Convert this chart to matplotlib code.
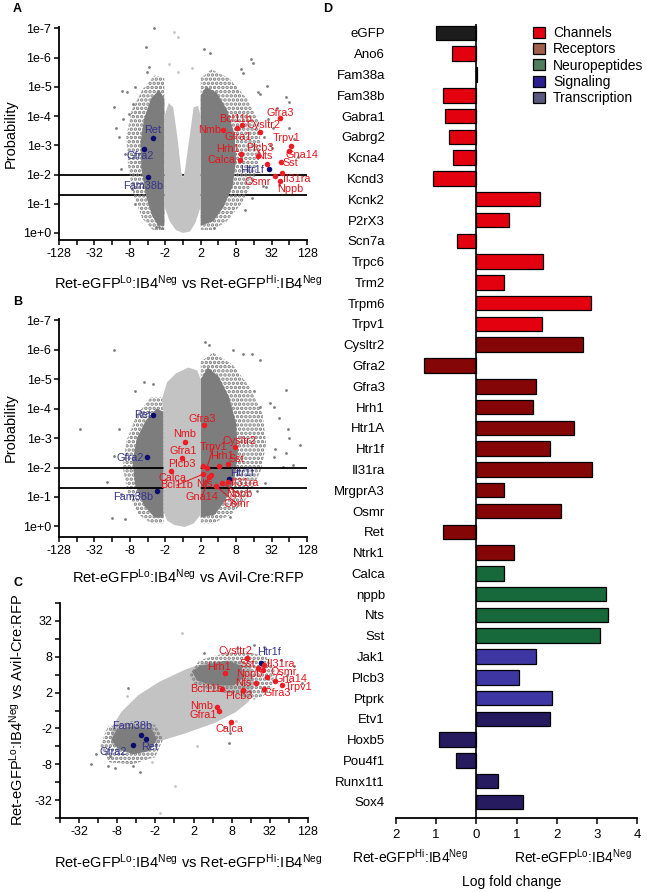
import numpy as np
import matplotlib
matplotlib.use('Agg')
import matplotlib.pyplot as plt
from matplotlib.patches import Patch

plt.rcParams['font.family'] = ['Liberation Sans', 'DejaVu Sans']
plt.rcParams['mathtext.fontset'] = 'custom'
plt.rcParams['mathtext.rm'] = 'Liberation Sans'
plt.rcParams['mathtext.it'] = 'Liberation Sans:italic'
plt.rcParams['mathtext.bf'] = 'Liberation Sans:bold'
plt.rcParams['hatch.linewidth'] = 1.7

W, H = 647, 892

# ---------------- Panel D data ----------------
genes_D = ['eGFP', 'Ano6', 'Fam38a', 'Fam38b', 'Gabra1', 'Gabrg2', 'Kcna4', 'Kcnd3',
           'Kcnk2', 'P2rX3', 'Scn7a', 'Trpc6', 'Trm2', 'Trpm6', 'Trpv1',
           'Cysltr2', 'Gfra2', 'Gfra3', 'Hrh1', 'Htr1A', 'Htr1f', 'Il31ra', 'MrgprA3',
           'Osmr', 'Ret', 'Ntrk1',
           'Calca', 'nppb', 'Nts', 'Sst',
           'Jak1', 'Plcb3', 'Ptprk',
           'Etv1', 'Hoxb5', 'Pou4f1', 'Runx1t1', 'Sox4']
lfc_D = [-1.00, -0.60, 0.02, -0.82, -0.77, -0.68, -0.58, -1.07,
         1.58, 0.82, -0.48, 1.66, 0.68, 2.85, 1.63,
         2.65, -1.31, 1.49, 1.42, 2.43, 1.84, 2.88, 0.68,
         2.12, -0.82, 0.95,
         0.68, 3.22, 3.29, 3.09,
         1.48, 1.07, 1.88,
         1.83, -0.94, -0.50, 0.55, 1.17]
group_D = (['eGFP'] + ['Channels'] * 14 + ['Receptors'] * 11 + ['Neuropeptides'] * 4
           + ['Signaling'] * 3 + ['Transcription'] * 5)
bar_colors = {'eGFP': '#1c1c1c', 'Channels': '#e3000f', 'Receptors': '#850606',
              'Neuropeptides': '#17683a', 'Signaling': '#3d36a3', 'Transcription': '#251b5e'}
legend_names = ['Channels', 'Receptors', 'Neuropeptides', 'Signaling', 'Transcription']
legend_colors = ['#e3000f', '#a0604c', '#4f7d5e', '#2a2090', '#5b5880']
d_tick_pos = [-2, -1, 0, 1, 2, 3, 4]
d_tick_lab = ['2', '1', '0', '1', '2', '3', '4']

# ---------------- Volcano / scatter axes ----------------
fc_labels_AB = ['-128', '-32', '-8', '-2', '2', '8', '32', '128']
fc_labels_C = ['-32', '-8', '-2', '2', '8', '32', '128']
fc_labels_Cy = ['-32', '-8', '-2', '2', '8', '32']
p_labels = ['1e+0', '1e-1', '1e-2', '1e-3', '1e-4', '1e-5', '1e-6', '1e-7']
p_lines = [0.01, 0.05]

# ---------------- Panel A ----------------
A_light = [(-1.05, 0.9), (-1.05, 4.0), (-0.8, 4.45), (-0.55, 4.3), (-0.3, 3.2), (-0.1, 2.1),
           (0.0, 1.9), (0.1, 2.1), (0.35, 3.2), (0.6, 4.3), (0.85, 4.35), (1.0, 4.0),
           (1.0, 0.9), (0.7, 0.35), (0.4, 0.05), (0.0, 0.0), (-0.4, 0.1), (-0.75, 0.4)]
A_sparse_left = [(-1.05, 0.1), (-1.05, 5.3), (-1.6, 5.4), (-2.3, 4.9), (-2.9, 4.2), (-3.2, 3.3),
                 (-3.1, 2.3), (-2.8, 1.3), (-2.3, 0.5), (-1.7, 0.1)]
A_dense_left = [(-1.05, 0.25), (-1.05, 4.6), (-1.35, 4.9), (-1.8, 4.6), (-2.2, 3.9), (-2.4, 3.1),
                (-2.35, 2.2), (-2.1, 1.3), (-1.75, 0.6), (-1.4, 0.25)]
A_sparse_right = [(1.0, 0.1), (1.0, 5.3), (1.6, 5.6), (2.6, 5.3), (3.6, 4.6), (4.3, 3.8),
                  (4.4, 2.8), (4.0, 1.8), (3.3, 1.0), (2.4, 0.35), (1.6, 0.1)]
A_dense_right = [(1.0, 0.25), (1.0, 4.7), (1.3, 5.0), (1.9, 4.8), (2.5, 4.2), (2.9, 3.4),
                 (3.0, 2.5), (2.8, 1.6), (2.3, 0.9), (1.7, 0.4)]
A_out_x = [-1.64, -2.07, -1.92, -2.01, 1.53, 1.21, -3.45, -3.90, -2.83, -3.39, -3.14, -2.71,
           -3.05, 3.36, 3.96, 4.34, 4.72, 5.82, 5.30, 6.29, 4.24, 5.96, 6.47, 5.43, 4.54,
           4.68, -1.54, -1.35, 1.75, -1.17, 3.26, 3.83, -3.60, -3.30, -3.50, -2.90, -2.70,
           4.80, 4.60, 4.90, 3.90, 3.50, 5.00, 5.10, -3.80, 6.00]
A_out_y = [7.02, 6.36, 5.69, 5.51, 6.17, 6.28, 4.87, 4.30, 4.43, 3.90, 4.84, 4.98,
           4.07, 5.46, 5.82, 4.75, 5.03, 4.66, 4.27, 3.20, 4.83, 4.47, 2.60, 1.64, 1.61,
           1.58, 0.20, 0.19, 0.17, 0.17, 5.60, 5.94, 3.30, 2.70, 2.20, 1.50, 1.00,
           3.90, 3.30, 3.00, 1.20, 0.80, 2.90, 3.60, 3.60, 3.60]
A_lout_x = [-0.50, -0.28, -0.79, -0.31, 0.53]
A_lout_y = [6.87, 6.70, 5.77, 5.50, 5.66]

A_names = ['Ret', 'Gfra2', 'Fam38b', 'Htr1f', 'Gfra3', 'Bcl11b', 'Nmb', 'Gfra1', 'Cysltr2',
           'Trpv1', 'Gna14', 'Hrh1', 'Calca', 'Plcb3', 'Nts', 'Sst', 'Il31ra', 'Osmr', 'Nppb']
A_x = [-1.71, -2.18, -1.99, 4.83, 5.45, 3.34, 2.23, 3.06, 4.37, 6.09, 5.98, 3.30, 3.21,
       4.22, 4.73, 5.52, 5.58, 5.22, 5.49]
A_y = [3.24, 2.86, 1.92, 2.20, 3.93, 3.71, 3.53, 3.60, 3.47, 2.98, 2.82, 2.69, 2.49,
       2.65, 2.37, 2.43, 2.05, 1.94, 1.77]
A_lx = [-1.71, -2.39, -2.24, 3.92, 5.49, 2.98, 1.53, 3.11, 4.54, 5.82, 6.71, 2.56, 2.15,
        4.36, 4.60, 6.05, 6.43, 4.20, 6.05]
A_ly = [3.53, 2.62, 1.61, 2.14, 4.10, 3.90, 3.53, 3.30, 3.70, 3.25, 2.66, 2.87, 2.49,
        2.90, 2.65, 2.40, 1.85, 1.75, 1.52]

# ---------------- Panel B ----------------
B_light = [(-1.1, 0.5), (-1.1, 3.9), (-1.2, 4.3), (-0.9, 4.9), (-0.4, 5.2), (0.3, 5.4),
           (0.8, 5.3), (1.0, 5.0), (1.0, 0.4), (0.6, 0.1), (0.1, -0.02), (-0.5, 0.05), (-0.9, 0.2)]
B_sparse_left = [(-1.1, 0.1), (-1.1, 4.4), (-1.8, 4.4), (-2.6, 3.8), (-3.2, 2.9), (-3.4, 2.0),
                 (-3.1, 1.1), (-2.5, 0.4), (-1.8, 0.1)]
B_dense_left = [(-1.1, 0.3), (-1.1, 3.9), (-1.5, 4.0), (-2.1, 3.6), (-2.6, 3.0), (-2.85, 2.2),
                (-2.7, 1.4), (-2.2, 0.7), (-1.6, 0.3)]
B_sparse_right = [(1.0, 0.1), (1.0, 5.6), (1.7, 5.9), (2.8, 5.5), (3.8, 4.7), (4.5, 3.8),
                  (4.7, 2.8), (4.4, 1.9), (3.7, 1.0), (2.7, 0.4), (1.7, 0.1)]
B_dense_right = [(1.0, 0.3), (1.0, 5.0), (1.4, 5.4), (2.0, 5.1), (2.6, 4.4), (3.0, 3.5),
                 (3.1, 2.5), (2.9, 1.6), (2.4, 0.9), (1.8, 0.4)]
B_out_x = [1.25, 1.44, -3.88, -1.67, -5.81, -4.31, -3.27, 3.89, 4.36, 5.79, 6.62, 5.95,
           4.64, 4.17, 2.66, 2.85, 3.37, 5.11, 5.67, 5.20, 6.00, 3.98, 4.36, 5.11, -2.73,
           -3.60, -3.90, -4.00, -3.50, 5.40, 5.80, 6.20, 4.90, -2.20]
B_out_y = [6.27, 6.16, 5.99, 4.85, 3.32, 1.51, 0.26, 5.87, 5.65, 4.63, 2.76, 3.32,
           1.47, 1.20, 0.32, 5.99, 5.87, 2.36, 2.02, 2.62, 3.00, 4.61, 4.05, 4.05, 4.60,
           3.30, 2.40, 0.30, 1.10, 3.70, 2.50, 2.10, 4.20, 4.90]
B_names = ['Ret', 'Gfra2', 'Fam38b', 'Htr1f', 'Gfra3', 'Nmb', 'Gfra1', 'Cysltr2', 'Trpv1',
           'Hrh1', 'Sst', 'Plcb3', 'Calca', 'Bcl11b', 'Nts', 'Il31ra', 'Gna14', 'Nppb', 'Osmr']
B_x = [-1.67, -2.03, -1.45, 2.62, 1.19, 0.12, -0.07, 2.91, 1.34, 2.04, 2.53, 1.15, -0.67,
       1.15, 1.57, 2.53, 1.49, 2.19, 1.87]
B_y = [3.78, 2.36, 1.19, 1.61, 3.46, 2.87, 2.34, 2.69, 1.98, 2.07, 2.13, 2.07, 1.90,
       1.78, 1.76, 1.51, 1.68, 1.49, 1.37]
B_lx = [-2.27, -2.99, -2.80, 3.32, 1.06, 0.08, -0.01, 3.19, 1.72, 2.19, 3.00, -0.07, -0.60,
        -0.35, 1.19, 3.51, 1.06, 3.19, 3.04]
B_ly = [3.78, 2.34, 1.00, 1.81, 3.66, 3.13, 2.56, 2.90, 2.70, 2.39, 2.28, 2.13, 1.66,
        1.40, 1.43, 1.49, 1.00, 1.09, 0.77]
B_leader = ['Trpv1', 'Bcl11b', 'Nts', 'Gna14', 'Nppb', 'Osmr']

# ---------------- Panel C ----------------
C_light = [(-3.3, -1.9), (-3.3, -1.0), (-2.8, -0.1), (-1.9, 0.85), (-0.8, 1.6),
           (0.6, 2.3), (1.7, 2.7), (3.1, 2.8), (4.0, 2.5), (4.2, 1.5), (3.9, 0.5),
           (3.2, -0.1), (2.1, -0.7), (0.5, -1.3), (-1.2, -1.85), (-1.9, -2.2), (-2.8, -2.2)]
C_sparse_ur = [(0.8, 2.0), (1.3, 2.8), (2.6, 3.2), (3.8, 3.3), (4.8, 3.0), (5.3, 2.2),
               (5.0, 1.0), (4.2, 0.6), (3.2, 0.9), (2.0, 1.1), (1.0, 1.5)]
C_dense_ur = [(0.92, 2.18), (1.35, 2.5), (2.76, 2.78), (3.5, 2.5), (3.63, 1.85), (3.1, 1.39),
              (2.05, 1.39), (1.18, 1.67)]
C_sparse_ll = [(-3.5, -0.9), (-2.2, -0.6), (-1.0, -0.8), (-0.6, -1.6), (-1.0, -2.6),
               (-2.2, -3.0), (-3.4, -2.9), (-3.9, -2.0)]
C_dense_ll = [(-3.03, -1.06), (-2.16, -0.87), (-1.19, -1.06), (-0.93, -1.61), (-1.28, -2.26),
              (-2.16, -2.44), (-2.95, -2.17), (-3.3, -1.61)]
C_out_x = [-2.42, -3.38, -3.47, -3.12, -2.16, -1.80, 4.16, 4.68, 2.93, 2.84, 6.26, 6.70,
           1.53, 5.90, 5.60, -4.10, -4.40, 3.30, 2.60]
C_out_y = [1.24, -2.54, -3.09, -3.20, -3.09, -3.44, 3.67, 3.57, -1.24, -1.80, 2.46, 1.54,
           3.20, 2.00, 2.80, -2.40, -3.00, 3.50, -0.90]
C_lout_x = [0.39, -0.75, 0.04, -1.20, 1.20, -2.50, 3.20]
C_lout_y = [4.31, -5.72, -4.20, -2.90, -2.00, 0.80, -0.60]
C_names = ['Htr1f', 'Cysltr2', 'Il31ra', 'Sst', 'Nppb', 'Osmr', 'Hrh1', 'Nts', 'Gna14',
           'Trpv1', 'Gfra3', 'Plcb3', 'Bcl11b', 'Nmb', 'Gfra1', 'Calca', 'Fam38b', 'Ret', 'Gfra2']
C_x = [4.56, 3.81, 4.69, 4.40, 4.65, 4.86, 2.67, 4.25, 5.25, 5.65, 4.69, 3.58, 2.49, 2.23,
       2.32, 2.97, -1.77, -1.51, -2.16]
C_y = [2.63, 2.93, 2.56, 2.40, 2.24, 1.87, 2.07, 1.54, 1.67, 1.41, 1.22, 1.17, 1.20, 0.17,
       -0.02, -0.63, -1.37, -1.61, -1.94]
C_lx = [4.95, 3.19, 5.56, 3.84, 3.90, 5.71, 2.32, 3.60, 6.09, 6.53, 5.39, 3.37, 1.70, 1.44,
        1.53, 2.86, -2.19, -1.28, -3.21]
C_ly = [3.26, 3.33, 2.59, 2.60, 2.05, 2.15, 2.43, 1.54, 1.76, 1.32, 0.98, 0.83, 1.20, 0.24,
        -0.26, -1.02, -0.87, -2.04, -2.32]

# ---------------- styling ----------------
DARK = '#7d7d7d'
LIGHT = '#c3c3c3'
RED_PT = '#ee1c24'
RED_TX = '#e5141b'
BLUE_PT = '#0c0c70'
BLUE_TX = '#34348f'
BLUES = ['Ret', 'Gfra2', 'Fam38b', 'Htr1f']


def fc_pos(labels):
    v = np.array([float(s) for s in labels])
    return np.sign(v) * np.log2(np.abs(v))


def add_ax(fig, l, t, r, b):
    return fig.add_axes([l / W, 1 - b / H, (r - l) / W, (b - t) / H])


def style_scatter(ax):
    for s in ['top', 'right']:
        ax.spines[s].set_visible(False)
    for s in ['left', 'bottom']:
        ax.spines[s].set_linewidth(1.3)
    ax.tick_params(which='both', direction='out', length=3.5, width=1.1, labelsize=9, pad=2)


def solid(ax, pts, color, z):
    pts = np.array(pts)
    ax.fill(pts[:, 0], pts[:, 1], color=color, lw=0, zorder=z)


def speckle(ax, pts, color, z):
    pts = np.array(pts)
    ax.fill(pts[:, 0], pts[:, 1], facecolor='none', edgecolor=color, hatch='....',
            lw=0, zorder=z)


def genes(ax, names, xs, ys, lxs, lys, leaders=()):
    for n, x, y, lx, ly in zip(names, xs, ys, lxs, lys):
        blue = n in BLUES
        ax.scatter([x], [y], s=16, color=BLUE_PT if blue else RED_PT, zorder=6, lw=0)
        ax.text(lx, ly, n, fontsize=7.8, color=BLUE_TX if blue else RED_TX,
                ha='center', va='center', zorder=7, clip_on=False)
        if n in leaders:
            ax.plot([lx, x], [ly, y], color=RED_TX, lw=0.7, zorder=5)


fig = plt.figure(figsize=(W / 100, H / 100), dpi=100)

# ---- Panel A ----
axA = add_ax(fig, 59, 27, 307, 240)
style_scatter(axA)
for yl in p_lines:
    axA.axhline(-np.log10(yl), color='black', lw=1.3, zorder=1)
speckle(axA, A_sparse_left, DARK, 2)
speckle(axA, A_sparse_right, DARK, 2)
solid(axA, A_dense_left, DARK, 2)
solid(axA, A_dense_right, DARK, 2)
axA.scatter(A_out_x, A_out_y, s=4, color=DARK, lw=0, zorder=2)
solid(axA, A_light, LIGHT, 3)
axA.scatter(A_lout_x, A_lout_y, s=4, color=LIGHT, lw=0, zorder=3)
genes(axA, A_names, A_x, A_y, A_lx, A_ly)

# ---- Panel B ----
axB = add_ax(fig, 59, 319, 307, 537)
style_scatter(axB)
speckle(axB, B_sparse_left, DARK, 1)
speckle(axB, B_sparse_right, DARK, 1)
solid(axB, B_dense_left, DARK, 1)
solid(axB, B_dense_right, DARK, 1)
axB.scatter(B_out_x, B_out_y, s=4, color=DARK, lw=0, zorder=1)
for yl in p_lines:
    axB.axhline(-np.log10(yl), color='black', lw=1.3, zorder=2)
solid(axB, B_light, LIGHT, 3)
genes(axB, B_names, B_x, B_y, B_lx, B_ly, B_leader)

for ax, ylo in [(axA, -0.24), (axB, -0.36)]:
    ax.set_xlim(-7, 7)
    ax.set_ylim(ylo, 7.05)
    ax.set_xticks(fc_pos(fc_labels_AB))
    ax.set_xticklabels(fc_labels_AB)
    ax.set_xticks([-6, -4, -2, 0, 2, 4, 6], minor=True)
    ax.set_yticks(range(len(p_labels)))
    ax.set_yticklabels(p_labels)
    ax.set_ylabel('Probability', fontsize=10.5, labelpad=4)

# ---- Panel C ----
axC = add_ax(fig, 60, 603, 308, 818)
style_scatter(axC)
solid(axC, C_light, LIGHT, 1)
axC.scatter(C_lout_x, C_lout_y, s=4, color=LIGHT, lw=0, zorder=1)
speckle(axC, C_sparse_ur, DARK, 2)
speckle(axC, C_sparse_ll, DARK, 2)
solid(axC, C_dense_ur, DARK, 2)
solid(axC, C_dense_ll, DARK, 2)
axC.scatter(C_out_x, C_out_y, s=4, color=DARK, lw=0, zorder=2)
genes(axC, C_names, C_x, C_y, C_lx, C_ly)
axC.set_xlim(-6, 7)
axC.set_ylim(-6, 6)
axC.set_xticks(fc_pos(fc_labels_C))
axC.set_xticklabels(fc_labels_C)
axC.set_xticks([-6, -4, -2, 0, 2, 4, 6], minor=True)
axC.set_yticks(fc_pos(fc_labels_Cy))
axC.set_yticklabels(fc_labels_Cy)
axC.set_yticks([-6, -4, -2, 0, 2, 4, 6], minor=True)

lo_hi = r'Ret-eGFP$^{\mathrm{Lo}}$:IB4$^{\mathrm{Neg}}$ vs Ret-eGFP$^{\mathrm{Hi}}$:IB4$^{\mathrm{Neg}}$'
lo_avil = r'Ret-eGFP$^{\mathrm{Lo}}$:IB4$^{\mathrm{Neg}}$ vs Avil-Cre:RFP'
fig.text(188 / W, 1 - 283 / H, lo_hi, fontsize=10.5, ha='center', va='center')
fig.text(188 / W, 1 - 577 / H, lo_avil, fontsize=10.5, ha='center', va='center')
fig.text(188 / W, 1 - 862 / H, lo_hi, fontsize=10.5, ha='center', va='center')
fig.text(17 / W, 1 - 710 / H, lo_avil, fontsize=10.5, ha='center', va='center', rotation=90)

for letter, x, y in [('A', 13, 9), ('B', 13, 302), ('C', 13, 583), ('D', 323, 9)]:
    fig.text(x / W, 1 - y / H, letter, fontsize=9, fontweight='bold', ha='left', va='center')

# ---- Panel D ----
axD = add_ax(fig, 396, 24, 637, 818)
for s in ['top', 'right', 'left']:
    axD.spines[s].set_visible(False)
axD.spines['bottom'].set_linewidth(1.3)
ypos = np.arange(len(genes_D))
cols = [bar_colors[g] for g in group_D]
axD.barh(ypos, lfc_D, height=0.7, color=cols, edgecolor='black', linewidth=0.9, zorder=2)
axD.axvline(0, color='black', lw=1.2, zorder=3)
axD.set_ylim(len(genes_D) - 1 + 0.77, -0.43)
axD.set_xlim(-2, 4)
axD.set_yticks(ypos)
axD.set_yticklabels(genes_D, fontsize=9.5)
axD.tick_params(axis='y', length=0, pad=8)
axD.set_xticks(d_tick_pos)
axD.set_xticklabels(d_tick_lab, fontsize=9.5)
axD.tick_params(axis='x', direction='out', length=4, width=1.1, pad=4)

fig.text(410 / W, 1 - 857 / H, r'Ret-eGFP$^{\mathrm{Hi}}$:IB4$^{\mathrm{Neg}}$', fontsize=10,
         ha='center', va='center')
fig.text(573 / W, 1 - 857 / H, r'Ret-eGFP$^{\mathrm{Lo}}$:IB4$^{\mathrm{Neg}}$', fontsize=10,
         ha='center', va='center')
fig.text(512 / W, 1 - 882 / H, 'Log fold change', fontsize=10, ha='center', va='center')

handles = [Patch(facecolor=c, edgecolor='black', linewidth=0.9) for c in legend_colors]
fig.legend(handles, legend_names, loc='upper left', bbox_to_anchor=(533 / W, 1 - 26 / H),
           frameon=False, fontsize=10, handlelength=0.85, handleheight=0.85,
           handletextpad=0.6, labelspacing=0.17, borderpad=0, borderaxespad=0)

fig.savefig('out.png', dpi=100)
